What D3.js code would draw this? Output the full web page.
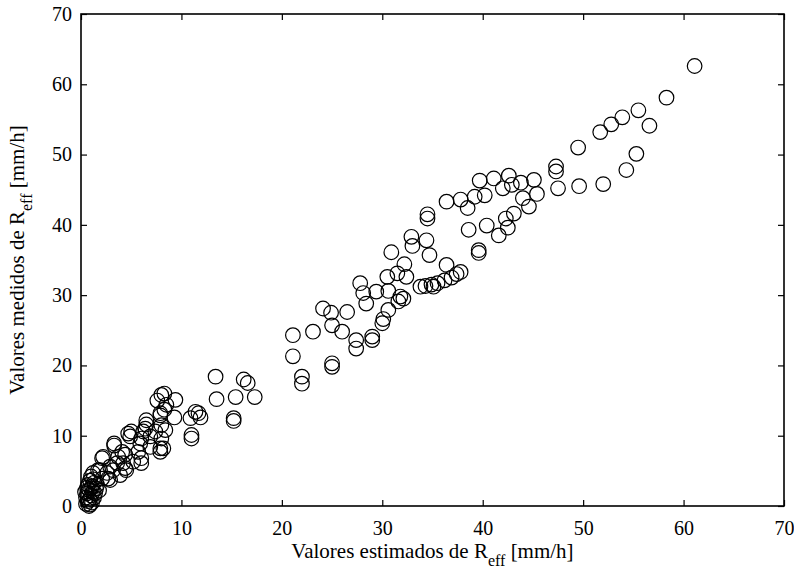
<!DOCTYPE html>
<html>
<head>
<meta charset="utf-8">
<script src="https://cdn.jsdelivr.net/npm/d3@7"></script>
<style>
  body { margin: 0; background: #fff; }
  svg text { font-family: "Liberation Serif", "DejaVu Serif", serif !important; fill: #000; }
</style>
</head>
<body>
<svg id="chart" width="794" height="573"></svg>
<script>
// estimated vs measured R_eff values [mm/h]
const estimados = [
  61.1, 58.3, 55.5, 53.9, 52.8, 51.7, 56.6, 49.5, 55.3, 54.3, 52.0, 49.6,
  47.3, 47.3, 47.5, 45.1, 45.4, 44.6, 44.0, 43.8, 42.6, 42.9, 42.0, 41.1,
  39.7, 40.2, 39.2, 38.5, 37.8, 36.4, 43.1, 42.3, 42.5, 41.6, 40.4, 38.6,
  39.6, 39.6, 36.4, 37.8, 37.4, 36.9, 36.2, 35.5, 34.9, 34.3, 33.8, 35.1,
  34.5, 34.5, 32.9, 33.0, 34.4, 34.7, 30.9, 32.2, 31.5, 32.4, 30.5, 30.6,
  29.4, 31.6, 31.8, 32.1, 30.6, 30.1, 30.0, 27.8, 28.1, 28.4, 24.1, 24.9,
  26.5, 25.0, 26.0, 23.1, 21.1, 27.4, 27.4, 29.0, 29.0, 21.1, 22.0, 22.0,
  25.0, 25.0,
  13.4, 13.5, 15.4, 16.2, 16.6, 17.3, 15.2, 15.2, 11.4, 11.7, 11.9, 10.9,
  11.0, 11.0, 8.0, 8.3, 7.6, 9.4, 8.5, 8.3, 7.9, 9.3, 7.9, 8.0, 8.4, 8.0,
  7.9, 7.9, 6.5, 6.4, 6.5, 6.2, 6.9, 5.0, 4.9, 6.0, 5.9, 5.7, 6.0, 6.0,
  5.2, 4.7, 3.3, 3.3, 2.2, 2.1, 4.1, 3.7, 4.4, 4.4, 3.6, 4.2, 2.9, 2.6,
  1.9, 1.2, 2.7, 3.9, 4.5, 3.2, 2.9, 2.1, 1.7, 7.4, 6.9, 8.2,
  1.0, 0.9, 1.3, 0.7, 1.1, 1.5, 0.8, 1.2, 0.6, 1.0, 0.5, 0.9, 1.3, 0.7,
  1.1, 0.5, 0.9, 0.6, 1.4, 1.6, 0.4, 1.8, 1.2, 0.8, 1.0
];
const medidos = [
  62.6, 58.1, 56.3, 55.3, 54.3, 53.2, 54.1, 51.0, 50.1, 47.8, 45.8, 45.5,
  48.3, 47.6, 45.2, 46.4, 44.4, 42.6, 43.8, 46.0, 47.0, 45.7, 45.2, 46.6,
  46.3, 44.2, 44.0, 42.4, 43.6, 43.3, 41.6, 40.9, 39.6, 38.5, 39.9, 39.3,
  36.4, 36.0, 34.3, 33.3, 33.0, 32.5, 32.1, 31.7, 31.5, 31.3, 31.2, 31.2,
  41.5, 40.9, 38.3, 37.0, 37.8, 35.7, 36.1, 34.4, 33.1, 32.6, 32.6, 30.6,
  30.5, 29.1, 29.8, 29.5, 27.9, 26.6, 26.0, 31.7, 30.3, 28.8, 28.1, 27.5,
  27.6, 25.7, 24.8, 24.8, 24.3, 23.6, 22.4, 24.1, 23.6, 21.3, 18.4, 17.4,
  20.3, 19.8,
  18.4, 15.2, 15.5, 18.0, 17.5, 15.5, 12.5, 12.1, 13.4, 13.2, 12.6, 12.5,
  10.1, 9.6, 15.8, 16.0, 15.0, 15.1, 14.4, 13.7, 13.2, 12.6, 12.9, 11.5,
  10.8, 9.6, 8.2, 7.7, 12.2, 11.0, 11.6, 10.6, 9.9, 10.6, 9.9, 9.6, 8.9,
  7.7, 6.8, 6.1, 6.3, 10.3, 8.9, 8.6, 7.0, 6.8, 7.7, 7.0, 7.3, 5.4, 6.1,
  6.1, 5.6, 4.7, 5.1, 4.7, 3.9, 4.4, 5.1, 5.1, 3.7, 3.9, 5.1, 10.6, 8.4, 8.2,
  4.2, 3.6, 3.3, 3.0, 2.8, 2.5, 2.3, 2.0, 1.8, 1.5, 1.2, 1.0, 1.2, 0.7,
  0.5, 0.3, 0.2, 2.6, 1.8, 3.0, 2.0, 2.2, 3.8, 0.0, 2.5
];
const xTicks = [0, 10, 20, 30, 40, 50, 60, 70];
const yTicks = [0, 10, 20, 30, 40, 50, 60, 70];

const points = estimados.map((e, i) => ({ x: e, y: medidos[i] }));

const margin = { top: 14, right: 10, bottom: 67, left: 81 };
const width = 794 - margin.left - margin.right;
const height = 573 - margin.top - margin.bottom;
const serif = "'Liberation Serif', 'DejaVu Serif', serif";

const svg = d3.select("#chart");
const g = svg.append("g").attr("transform", `translate(${margin.left},${margin.top})`);

const x = d3.scaleLinear().domain([0, 70]).range([0, width]);
const y = d3.scaleLinear().domain([0, 70]).range([height, 0]);

// points
g.append("g")
  .selectAll("circle")
  .data(points)
  .join("circle")
  .attr("cx", d => x(d.x))
  .attr("cy", d => y(d.y))
  .attr("r", 7.3)
  .attr("fill", "none")
  .attr("stroke", "#000")
  .attr("stroke-width", 1.2);

function styleAxis(sel) {
  sel.attr("font-family", serif).attr("font-size", 20);
  sel.select(".domain").remove();
  sel.selectAll(".tick line").attr("stroke", "#000").attr("stroke-width", 1.2);
  sel.selectAll(".tick text").style("font-family", serif).style("font-size", "20px");
}

g.append("g")
  .attr("transform", `translate(0,${height})`)
  .call(d3.axisBottom(x).tickValues(xTicks).tickSizeInner(-6).tickSizeOuter(0).tickPadding(15))
  .call(styleAxis);

g.append("g")
  .call(d3.axisLeft(y).tickValues(yTicks).tickSizeInner(-6).tickSizeOuter(0).tickPadding(9))
  .call(styleAxis);

g.append("g")
  .call(d3.axisTop(x).tickValues(xTicks).tickSizeInner(-6).tickSizeOuter(0).tickFormat(""))
  .call(styleAxis);

g.append("g")
  .attr("transform", `translate(${width},0)`)
  .call(d3.axisRight(y).tickValues(yTicks).tickSizeInner(-6).tickSizeOuter(0).tickFormat(""))
  .call(styleAxis);

// box
g.append("rect")
  .attr("width", width)
  .attr("height", height)
  .attr("fill", "none")
  .attr("stroke", "#000")
  .attr("stroke-width", 1.6);

// axis labels
const xl = svg.append("text")
  .attr("x", margin.left + width / 2)
  .attr("y", 558)
  .attr("text-anchor", "middle")
  .style("font-family", serif)
  .style("font-size", "21px");
xl.append("tspan").text("Valores estimados de R");
xl.append("tspan").style("font-size", "16px").attr("dy", 8).text("eff");
xl.append("tspan").attr("dy", -8).text(" [mm/h]");

const yl = svg.append("text")
  .attr("transform", `translate(24,${margin.top + height / 2}) rotate(-90)`)
  .attr("text-anchor", "middle")
  .style("font-family", serif)
  .style("font-size", "21px");
yl.append("tspan").text("Valores medidos de R");
yl.append("tspan").style("font-size", "16px").attr("dy", 8).text("eff");
yl.append("tspan").attr("dy", -8).text(" [mm/h]");
</script>
</body>
</html>
